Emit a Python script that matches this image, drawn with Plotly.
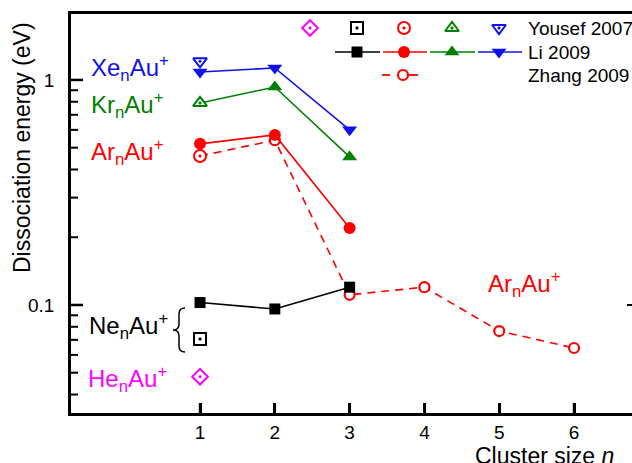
import math
import plotly.graph_objects as go

# ---- data ----
n_li = [1, 2, 3]
li_ne = [0.1025, 0.096, 0.120]
li_ar = [0.52, 0.57, 0.22]
li_kr = [0.79, 0.93, 0.455]
li_xe = [1.085, 1.13, 0.60]

n_zhang = [1, 2, 3, 4, 5, 6]
zhang_ar = [0.459, 0.54, 0.111, 0.120, 0.0766, 0.0644]

n_yousef = [1]
yousef_he = [0.048]
yousef_ne = [0.0706]
yousef_ar = [0.459]
yousef_kr = [0.79]
yousef_xe = [1.21]

y_major = [0.1, 1]
y_major_text = ["0.1", "1"]
y_minor = [0.04, 0.05, 0.06, 0.07, 0.08, 0.09, 0.2, 0.3, 0.4, 0.5, 0.6, 0.7, 0.8, 0.9]
x_ticks = [1, 2, 3, 4, 5, 6]

BLACK = "#000000"
RED = "#ff0000"
GREEN = "#008000"
BLUE = "#1010ee"
MAGENTA = "#ff00ff"
FONT = "Arial, Liberation Sans, sans-serif"

XMIN, XMAX = -0.725, 6.775
YMIN, YMAX = -1.48, 0.293

# plot area in pixels (for decorations)
L, R, T, B = 71, 632, 14, 413
def px(x):
    return (x - L) / (R - L)
def py(y):
    return (B - y) / (B - T)
def ypix(v):
    return B - (math.log10(v) - YMIN) / (YMAX - YMIN) * (B - T)
def xpix(v):
    return L + (v - XMIN) / (XMAX - XMIN) * (R - L)

fig = go.Figure()

# Zhang dashed line (behind)
fig.add_trace(go.Scatter(x=n_zhang, y=zhang_ar, mode="lines+markers",
                         line=dict(color=RED, width=1.6, dash="8px,6px"),
                         marker=dict(symbol="circle", size=10, color="white",
                                     line=dict(color=RED, width=2.2))))

# Li 2009 solid lines
for ys, col, sym, sz in [(li_ne, BLACK, "square", 11), (li_ar, RED, "circle", 12),
                         (li_kr, GREEN, "triangle-up", 13), (li_xe, BLUE, "triangle-down", 13)]:
    fig.add_trace(go.Scatter(x=n_li, y=ys, mode="lines+markers",
                             line=dict(color=col, width=1.6),
                             marker=dict(symbol=sym, size=sz, color=col)))

YOUSEF_STYLE = [(MAGENTA, "diamond-dot"), (BLACK, "square-dot"), (RED, "circle-dot"),
                (GREEN, "triangle-up-dot"), (BLUE, "triangle-down-dot")]

# Yousef 2007 open-dot markers (white fill)
for ys, (col, sym) in zip([yousef_he, yousef_ne, yousef_ar, yousef_kr, yousef_xe], YOUSEF_STYLE):
    fig.add_trace(go.Scatter(x=n_yousef, y=ys, mode="markers",
                             marker=dict(symbol=sym, size=12, color="white",
                                         line=dict(color=col, width=2))))

# ---- custom legend on pixel-like overlay axes ----
def leg(xs, ys, **kw):
    fig.add_trace(go.Scatter(x=xs, y=ys, xaxis="x2", yaxis="y2", hoverinfo="skip", **kw))

row1, row2, row3 = 28, 52, 75
for xc, (col, sym) in zip([310, 357, 404, 452, 499], YOUSEF_STYLE):
    leg([xc], [row1], mode="markers",
        marker=dict(symbol=sym, size=12, color="white", line=dict(color=col, width=2)))
for (x0, x1, xc), col, sym, sz in [((335, 380, 357), BLACK, "square", 11),
                                   ((383, 427, 404), RED, "circle", 12),
                                   ((430, 475, 452), GREEN, "triangle-up", 13),
                                   ((478, 522, 499), BLUE, "triangle-down", 13)]:
    leg([x0, x1], [row2, row2], mode="lines", line=dict(color=col, width=1.6))
    leg([xc], [row2], mode="markers", marker=dict(symbol=sym, size=sz, color=col))
leg([382, 390], [row3, row3], mode="lines", line=dict(color=RED, width=1.8))
leg([408, 418], [row3, row3], mode="lines", line=dict(color=RED, width=1.8))
leg([403], [row3], mode="markers",
    marker=dict(symbol="circle", size=10, color="white", line=dict(color=RED, width=2.2)))

ann = []
for txt, yy in [("Yousef 2007", row1), ("Li 2009", row2), ("Zhang 2009", row3)]:
    ann.append(dict(text=txt, x=px(526), y=py(yy), xref="paper", yref="paper", xanchor="left",
                    yanchor="middle", showarrow=False, font=dict(size=19, color=BLACK, family=FONT)))

# species labels
for txt, col, xx, yy in [("Xe<sub>n</sub>Au<sup>+</sup>", BLUE, 89, 68),
                         ("Kr<sub>n</sub>Au<sup>+</sup>", GREEN, 89, 105),
                         ("Ar<sub>n</sub>Au<sup>+</sup>", RED, 89, 152),
                         ("Ne<sub>n</sub>Au<sup>+</sup>", BLACK, 87, 326),
                         ("He<sub>n</sub>Au<sup>+</sup>", MAGENTA, 86, 379),
                         ("Ar<sub>n</sub>Au<sup>+</sup>", RED, 486, 284)]:
    ann.append(dict(text=txt, x=px(xx), y=py(yy), xref="paper", yref="paper", xanchor="left",
                    yanchor="middle", showarrow=False, font=dict(size=24, color=col, family=FONT)))
ann.append(dict(text="Cluster size <i>n</i>", x=px(544), y=py(456), xref="paper", yref="paper",
                xanchor="center", yanchor="middle", showarrow=False,
                font=dict(size=23, color=BLACK, family=FONT)))
ann.append(dict(text="Dissociation energy (eV)", x=px(22), y=py(148), xref="paper", yref="paper",
                xanchor="center", yanchor="middle", showarrow=False, textangle=-90,
                font=dict(size=23, color=BLACK, family=FONT)))

# curly brace as a path (pixel coords on x2/y2)
brace = ("M 185 308 Q 179 308 179 314 L 179 324 Q 179 330 173 330 "
         "Q 179 330 179 336 L 179 346 Q 179 352 185 352")
shapes = [dict(type="path", path=brace, xref="x2", yref="y2",
               line=dict(color=BLACK, width=1.5))]
# tick marks drawn as shapes
for v in y_major:
    yp = ypix(v)
    shapes.append(dict(type="line", xref="x2", yref="y2", x0=L, x1=L + 12, y0=yp, y1=yp,
                       line=dict(color=BLACK, width=2.5)))
for v in y_minor:
    yp = ypix(v)
    shapes.append(dict(type="line", xref="x2", yref="y2", x0=L, x1=L + 7, y0=yp, y1=yp,
                       line=dict(color=BLACK, width=2)))
for v in x_ticks:
    xp = xpix(v)
    shapes.append(dict(type="line", xref="x2", yref="y2", x0=xp, x1=xp, y0=B, y1=B - 10,
                       line=dict(color=BLACK, width=2.5)))
# the clipped right-axis tick at 0.1
shapes.append(dict(type="line", xref="x2", yref="y2", x0=627, x1=632,
                   y0=ypix(0.1), y1=ypix(0.1), line=dict(color=BLACK, width=2)))

fig.update_layout(
    width=632, height=463,
    margin=dict(l=L, r=632 - R, t=T, b=463 - B),
    plot_bgcolor="white", paper_bgcolor="white",
    showlegend=False,
    font=dict(family=FONT, color=BLACK, size=19),
    xaxis=dict(range=[XMIN, XMAX], tickvals=x_ticks, ticks="inside", ticklen=10,
               tickwidth=2.5, tickcolor=BLACK, showline=True, linewidth=2.5,
               linecolor=BLACK, mirror=True, showgrid=False, zeroline=False,
               tickfont=dict(size=19, family=FONT, color=BLACK)),
    yaxis=dict(type="log", range=[YMIN, YMAX], tickvals=y_major, ticktext=y_major_text,
               ticks="", showline=True, linewidth=2.5, linecolor=BLACK, mirror=False,
               showgrid=False, zeroline=False,
               tickfont=dict(size=19, family=FONT, color=BLACK), ticklabelstandoff=10),
    xaxis2=dict(range=[L, R], overlaying="x", anchor="y2", visible=False, fixedrange=True),
    yaxis2=dict(range=[B, T], overlaying="y", anchor="x2", visible=False, fixedrange=True),
    annotations=ann,
    shapes=shapes,
)

fig.write_html("out.html")
